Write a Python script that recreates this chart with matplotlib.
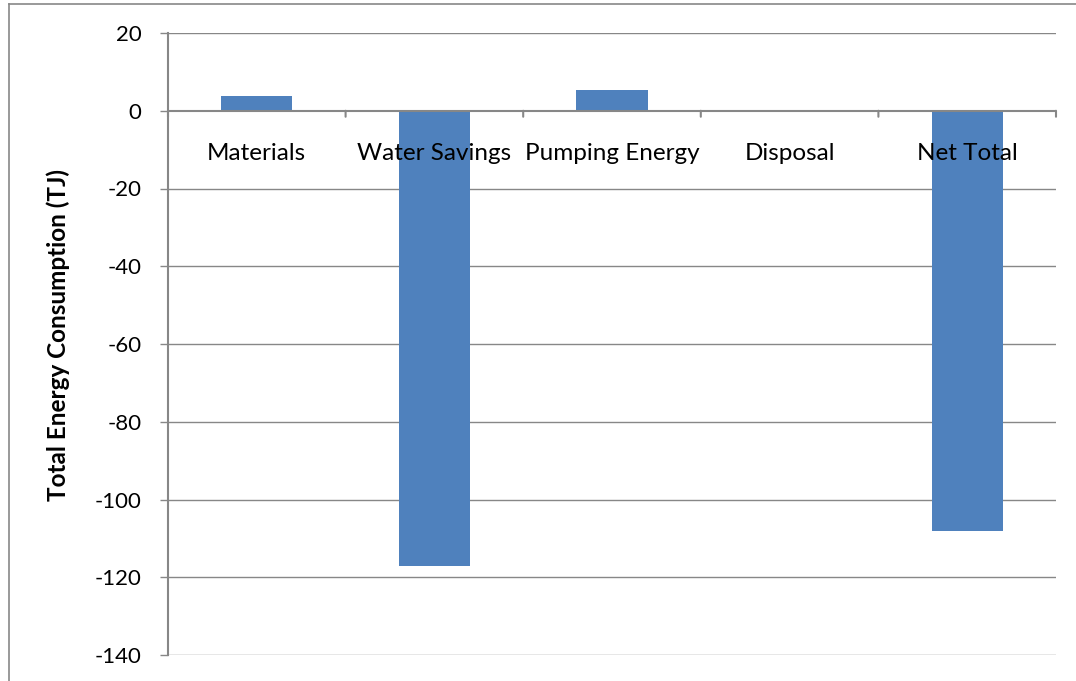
import matplotlib

matplotlib.use("Agg")

import matplotlib.pyplot as plt
from matplotlib.lines import Line2D

categories = ["Materials", "Water Savings", "Pumping Energy", "Disposal", "Net Total"]
energy_tj = [3.7, -117.0, 5.3, 0.0, -108.0]
y_ticks = [20, 0, -20, -40, -60, -80, -100, -120, -140]

BAR_COLOR = "#4F81BD"
GRID_COLOR = "#878787"
W, H = 1076, 681

plt.rcParams["font.family"] = ["Lato", "DejaVu Sans"]

fig = plt.figure(figsize=(W / 100, H / 100), dpi=100)
ax = fig.add_axes([168 / W, 1 - 655 / H, (1056 - 168) / W, (655 - 33) / H])

x = list(range(len(categories)))
ax.bar(x, energy_tj, width=0.4, color=BAR_COLOR, zorder=3)

ax.set_xlim(-0.5, len(categories) - 0.5)
ax.set_ylim(y_ticks[-1], y_ticks[0])
ax.set_yticks(y_ticks)
ax.set_yticklabels([str(v) for v in y_ticks])
ax.tick_params(axis="y", length=6, width=1, color=GRID_COLOR, pad=13, labelsize=16)

# horizontal gridlines (they also act as top and bottom frame)
for v in y_ticks:
    if v == 0:
        continue
    ax.axhline(v, color=GRID_COLOR, lw=1, zorder=1)
ax.axhline(0, color=GRID_COLOR, lw=1.5, zorder=4)

# category tick marks on the zero line
ax.set_xticks([])
for b in range(len(categories) + 1):
    ax.annotate("", xy=(b - 0.5, 0), xytext=(0, -6), textcoords="offset pixels",
                xycoords="data",
                arrowprops=dict(arrowstyle="-", color=GRID_COLOR, lw=1.5,
                                shrinkA=0, shrinkB=0),
                annotation_clip=False)

for i, name in enumerate(categories):
    ax.annotate(name, xy=(i, 0), xytext=(0, -43), textcoords="offset pixels",
                ha="center", va="center", fontsize=17.5, zorder=5)

for side in ("top", "right", "bottom"):
    ax.spines[side].set_visible(False)
ax.spines["left"].set_color(GRID_COLOR)
ax.spines["left"].set_linewidth(1.5)

ax.set_ylabel("Total Energy Consumption (TJ)", fontsize=17.5, fontweight="bold")
ax.yaxis.set_label_coords((70 - 168) / (1056 - 168), 0.515)

# outer chart-area frame, cropped at right and bottom
fig.add_artist(Line2D([9 / W, 9 / W], [0, 1 - 4 / H], color=GRID_COLOR, lw=1.2,
                      transform=fig.transFigure))
fig.add_artist(Line2D([9 / W, 1], [1 - 4 / H, 1 - 4 / H], color=GRID_COLOR, lw=1.2,
                      transform=fig.transFigure))

fig.savefig("out.png", dpi=100, facecolor="white")
